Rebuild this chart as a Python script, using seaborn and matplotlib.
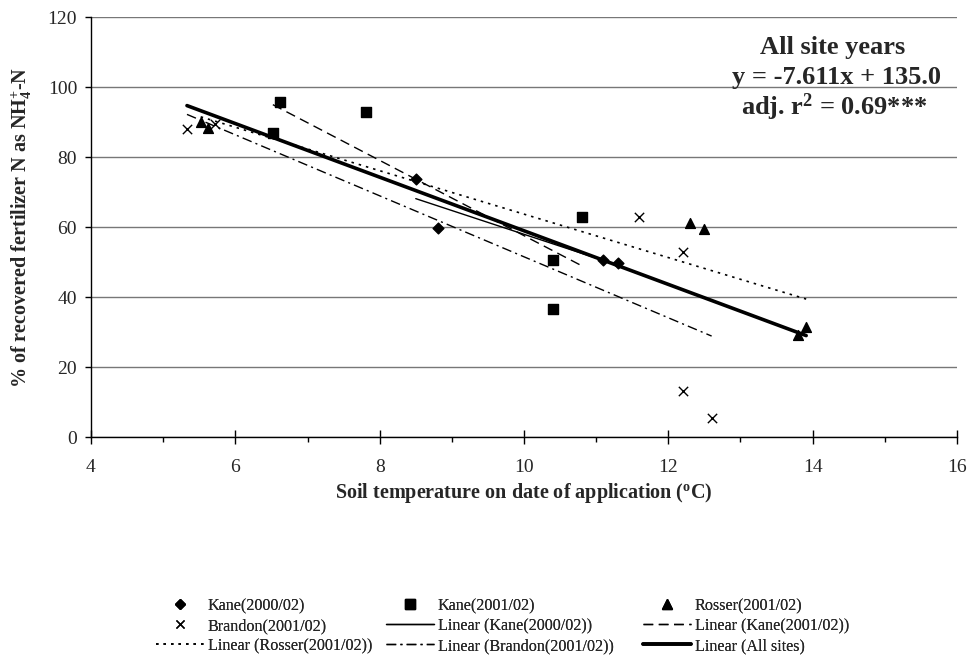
import numpy as np
import pandas as pd
import matplotlib
matplotlib.use("Agg")
import matplotlib.pyplot as plt
from matplotlib.lines import Line2D
from matplotlib.ticker import MultipleLocator
import seaborn as sns

# ---- data ----
kane00_x = [8.50, 8.81, 11.09, 11.30]
kane00_y = [73.7, 59.7, 50.6, 49.7]
kane01_x = [6.62, 7.81, 6.52, 10.80, 10.40, 10.40]
kane01_y = [95.7, 92.8, 86.8, 62.9, 50.6, 36.5]
rosser_x = [5.52, 5.62, 12.30, 12.50, 13.91, 13.80]
rosser_y = [90.0, 88.3, 61.2, 59.4, 31.4, 29.1]
brandon_x = [5.33, 5.72, 11.60, 12.21, 12.21, 12.60]
brandon_y = [88.0, 89.4, 63.0, 52.9, 13.1, 5.4]

series_names = ["Kane(2000/02)", "Kane(2001/02)", "Rosser(2001/02)", "Brandon(2001/02)"]
xticks = [4, 6, 8, 10, 12, 14, 16]
yticks = [0, 20, 40, 60, 80, 100, 120]

frames = []
for name, xs, ys in zip(series_names,
                        [kane00_x, kane01_x, rosser_x, brandon_x],
                        [kane00_y, kane01_y, rosser_y, brandon_y]):
    frames.append(pd.DataFrame({"temp": xs, "rec": ys, "site": name}))
df = pd.concat(frames, ignore_index=True)

sns.set_style("white")
plt.rcParams["font.family"] = ["Liberation Serif", "DejaVu Serif"]
plt.rcParams["mathtext.fontset"] = "custom"
plt.rcParams["mathtext.rm"] = "Liberation Serif"
plt.rcParams["mathtext.bf"] = "Liberation Serif:bold"
plt.rcParams["mathtext.it"] = "Liberation Serif:italic"

fig = plt.figure(figsize=(9.71, 6.70), dpi=100)
ax = fig.add_axes([91/971, 1-437/670, (957-91)/971, (437-17)/670])

markers = {"Kane(2000/02)": "D", "Kane(2001/02)": "s", "Rosser(2001/02)": "^", "Brandon(2001/02)": "x"}
sizes = {"Kane(2000/02)": 30, "Kane(2001/02)": 45, "Rosser(2001/02)": 50, "Brandon(2001/02)": 45}
styles = {"Kane(2000/02)": dict(ls="-", lw=1.0),
          "Kane(2001/02)": dict(ls=(0, (7, 4)), lw=1.0),
          "Rosser(2001/02)": dict(ls=(0, (1.5, 3)), lw=1.2),
          "Brandon(2001/02)": dict(ls=(0, (7, 3, 1.5, 3)), lw=1.0)}

for name in series_names:
    sub = df[df.site == name]
    sns.scatterplot(data=sub, x="temp", y="rec", marker=markers[name], s=sizes[name],
                    color="black", edgecolor="black" if markers[name] != "x" else None,
                    linewidth=1.0, ax=ax, zorder=4, legend=False)
for name in series_names:
    sub = df[df.site == name]
    sns.regplot(data=sub, x="temp", y="rec", scatter=False, ci=None, truncate=True,
                color="black", line_kws=dict(**styles[name], zorder=3), ax=ax)
sns.regplot(data=df, x="temp", y="rec", scatter=False, ci=None, truncate=True,
            color="black", line_kws=dict(lw=2.6, ls="-", zorder=3), ax=ax)

ax.set_xlim(4, 16)
ax.set_ylim(0, 120)
ax.set_xticks(xticks)
ax.set_yticks(yticks)
ax.xaxis.set_minor_locator(MultipleLocator(1))
ax.tick_params(axis="x", which="major", direction="inout", length=9.5, width=1,
               labelsize=14, pad=11, color="black", bottom=True)
ax.tick_params(axis="x", which="minor", direction="out", length=3.6, width=1,
               color="black", bottom=True)
ax.tick_params(axis="y", which="major", direction="out", length=4, width=1,
               labelsize=14, pad=6, color="black", left=True)
ax.grid(axis="y", color="#777777", lw=1.0)
ax.grid(axis="x", visible=False)
ax.set_axisbelow(True)
for s in ["top", "right"]:
    ax.spines[s].set_visible(False)
for s in ["left", "bottom"]:
    ax.spines[s].set_color("black")
    ax.spines[s].set_linewidth(1.0)
    ax.spines[s].set_zorder(5)

ax.set_xlabel(r"Soil temperature on date of application ($^\mathbf{o}$C)",
              fontsize=14.5, fontweight="bold", labelpad=4)
ax.set_ylabel(r"% of recovered fertilizer N as NH$_\mathbf{4}^\mathbf{+}$-N",
              fontsize=14.5, fontweight="bold", labelpad=10)

ax.text(833/971, 1-54/670, "All site years", transform=fig.transFigure,
        ha="center", va="baseline", fontsize=19, fontweight="bold")
ax.text(836/971, 1-84/670, "y = -7.611x + 135.0", transform=fig.transFigure,
        ha="center", va="baseline", fontsize=19, fontweight="bold")
ax.text(834/971, 1-115/670, r"adj. r$^\mathbf{2}$ = 0.69***", transform=fig.transFigure,
        ha="center", va="baseline", fontsize=19, fontweight="bold")

# legend: three columns placed separately
def mk(m, ms):
    return Line2D([], [], color="black", marker=m, ls="none", markersize=ms, mew=1.0)
def ln(**kw):
    return Line2D([], [], color="black", **kw)

h = {
    "Kane(2000/02)": mk("D", 5),
    "Kane(2001/02)": mk("s", 6.5),
    "Rosser(2001/02)": mk("^", 7),
    "Brandon(2001/02)": mk("x", 6),
    "Linear (Kane(2000/02))": ln(ls="-", lw=1.0),
    "Linear (Kane(2001/02))": ln(ls=(0, (7, 4)), lw=1.0),
    "Linear (Rosser(2001/02))": ln(ls=(0, (1.5, 3)), lw=1.2),
    "Linear (Brandon(2001/02))": ln(ls=(0, (7, 3, 1.5, 3)), lw=1.0),
    "Linear (All sites)": ln(ls="-", lw=2.6),
}
columns = [
    (["Kane(2000/02)", "Brandon(2001/02)", "Linear (Rosser(2001/02))"], 156),
    (["Kane(2001/02)", "Linear (Kane(2000/02))", "Linear (Brandon(2001/02))"], 386),
    (["Rosser(2001/02)", "Linear (Kane(2001/02))", "Linear (All sites)"], 643),
]
for labels, x0 in columns:
    leg = fig.legend([h[k] for k in labels], labels, loc="center left",
                     bbox_to_anchor=(x0/971, 1-626/670), ncol=1, frameon=False,
                     fontsize=11.6, handlelength=3.0, handletextpad=0.2,
                     labelspacing=0.25, borderpad=0, borderaxespad=0)
    fig.add_artist(leg)

fig.savefig("out.png", dpi=100)
